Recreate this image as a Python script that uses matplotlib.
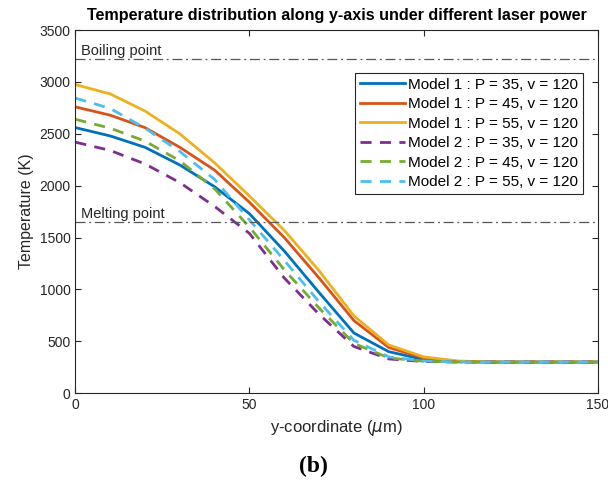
import matplotlib
matplotlib.use("Agg")
import matplotlib.pyplot as plt

plt.rcParams['font.family'] = ['Liberation Sans', 'DejaVu Sans']

# y-coordinate (um) and temperature (K) for each case
y_um = [0, 10, 20, 30, 40, 50, 60, 70, 80, 90, 100, 110, 120, 130, 140, 150]

m1_p35 = [2560, 2480, 2370, 2200, 1990, 1730, 1370, 970, 580, 400, 325, 305, 300, 300, 300, 300]
m1_p45 = [2760, 2680, 2560, 2370, 2150, 1840, 1500, 1110, 700, 440, 340, 305, 300, 300, 300, 300]
m1_p55 = [2975, 2885, 2720, 2500, 2220, 1900, 1570, 1180, 745, 465, 350, 310, 300, 300, 300, 300]
m2_p35 = [2420, 2340, 2210, 2030, 1800, 1540, 1110, 760, 450, 330, 305, 300, 300, 300, 300, 300]
m2_p45 = [2640, 2555, 2430, 2240, 1970, 1600, 1190, 820, 480, 340, 308, 300, 300, 300, 300, 300]
m2_p55 = [2845, 2745, 2555, 2330, 2060, 1670, 1280, 880, 510, 350, 310, 300, 300, 300, 300, 300]

boiling_T = 3220
melting_T = 1650

series = [
    (m1_p35, 'Model 1 : P = 35, v = 120', '#0072BD', '-'),
    (m1_p45, 'Model 1 : P = 45, v = 120', '#D95319', '-'),
    (m1_p55, 'Model 1 : P = 55, v = 120', '#EDB120', '-'),
    (m2_p35, 'Model 2 : P = 35, v = 120', '#7E2F8E', '--'),
    (m2_p45, 'Model 2 : P = 45, v = 120', '#77AC30', '--'),
    (m2_p55, 'Model 2 : P = 55, v = 120', '#4DBEEE', '--'),
]

fig = plt.figure(figsize=(6.08, 4.86), dpi=100)
ax = fig.add_axes([0.124, 0.191, 0.859, 0.747])

for vals, lab, col, ls in series:
    line, = ax.plot(y_um, vals, color=col, linestyle=ls, linewidth=2, label=lab)
    if ls == '--':
        line.set_dashes((4, 3))

ax.axhline(boiling_T, color='#555555', linestyle='-.', linewidth=0.9, dashes=(8, 3, 1.5, 3))
ax.axhline(melting_T, color='#555555', linestyle='-.', linewidth=0.9, dashes=(8, 3, 1.5, 3))
ax.text(1.5, boiling_T + 40, 'Boiling point', fontsize=10.5, color='#262626')
ax.text(1.5, melting_T + 40, 'Melting point', fontsize=10.5, color='#262626')

ax.set_xlim(0, 150)
ax.set_ylim(0, 3500)
ax.set_xticks([0, 50, 100, 150])
ax.set_yticks(range(0, 3501, 500))
ax.tick_params(direction='in', top=True, right=True, labelsize=10,
               colors='#262626', length=4)
for sp in ax.spines.values():
    sp.set_color('#262626')
    sp.set_linewidth(0.8)

ax.set_xlabel(r'y-coordinate ($\mu$m)', fontsize=12, color='#262626')
ax.set_ylabel('Temperature (K)', fontsize=11.5, color='#262626')
ax.set_title('Temperature distribution along y-axis under different laser power',
             fontsize=11.6, fontweight='bold', pad=7)

leg = ax.legend(loc='upper right', bbox_to_anchor=(0.972, 0.882), fontsize=11,
                handlelength=3.0, labelspacing=0.36, borderpad=0.3,
                handletextpad=0.2, borderaxespad=0, fancybox=False,
                framealpha=1)
leg.get_frame().set_edgecolor('#262626')
leg.get_frame().set_linewidth(0.8)

fig.text(0.515, 0.028, '(b)', fontsize=17, fontweight='bold',
         family='Liberation Serif', ha='center')

fig.savefig('out.png', dpi=100)
